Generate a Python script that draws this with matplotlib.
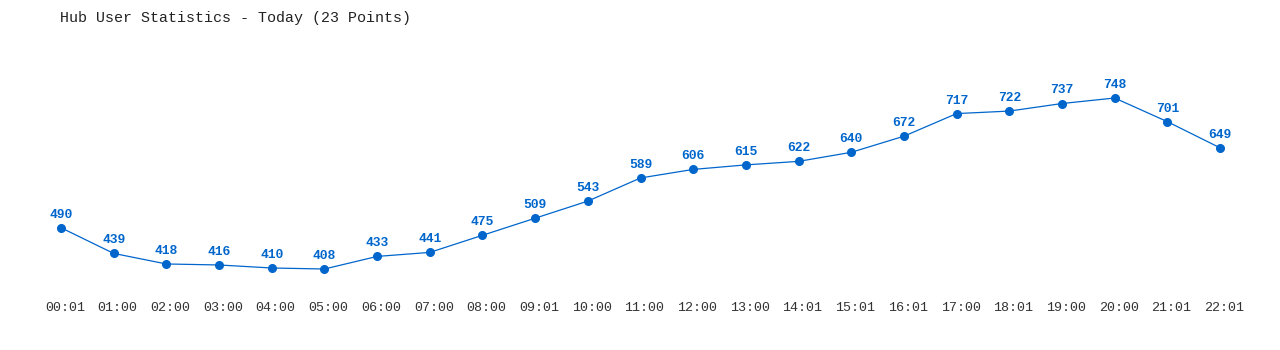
import matplotlib
matplotlib.use("Agg")
import matplotlib.pyplot as plt
import matplotlib.transforms as mtransforms

title = "Hub User Statistics - Today (23 Points)"
times = ["00:01", "01:00", "02:00", "03:00", "04:00", "05:00", "06:00", "07:00",
         "08:00", "09:01", "10:00", "11:00", "12:00", "13:00", "14:01", "15:01",
         "16:01", "17:00", "18:01", "19:00", "20:00", "21:01", "22:01"]
users = [490, 439, 418, 416, 410, 408, 433, 441, 475, 509, 543, 589, 606, 615,
         622, 640, 672, 717, 722, 737, 748, 701, 649]

W, H = 1280, 350
fig = plt.figure(figsize=(W / 100, H / 100), dpi=100)
fig.patch.set_facecolor("white")

x0, x1 = 61, 1220
ytop, ybot = 98, 269
ax = fig.add_axes([x0 / W, (H - ybot) / H, (x1 - x0) / W, (ybot - ytop) / H])
ax.set_facecolor("none")

color = "#0066cc"
xs = list(range(len(users)))
ax.plot(xs, users, color=color, lw=0.9, marker="o", ms=5.5, clip_on=False)
ax.set_xlim(0, len(users) - 1)
ax.set_ylim(min(users), max(users))

for x, v in zip(xs, users):
    ax.annotate(str(v), (x, v), xytext=(0, 9.4), textcoords="offset points",
                ha="center", va="center", color=color, fontsize=9.4,
                fontweight="bold", family="Liberation Mono")

ax.set_xticks(xs)
ax.set_xticklabels(times, family="Liberation Mono", fontsize=9.6, color="#333333")
ax.tick_params(axis="x", length=0, pad=24)
shift = mtransforms.ScaledTranslation(4 / 100, 0, fig.dpi_scale_trans)
for lbl in ax.get_xticklabels():
    lbl.set_transform(lbl.get_transform() + shift)
ax.set_yticks([])
for s in ax.spines.values():
    s.set_visible(False)

fig.text(60 / W, 1 - 18 / H, title, family="Liberation Mono", fontsize=10.8,
         color="#222222", ha="left", va="center")

fig.savefig("out.png", dpi=100, facecolor="white")
